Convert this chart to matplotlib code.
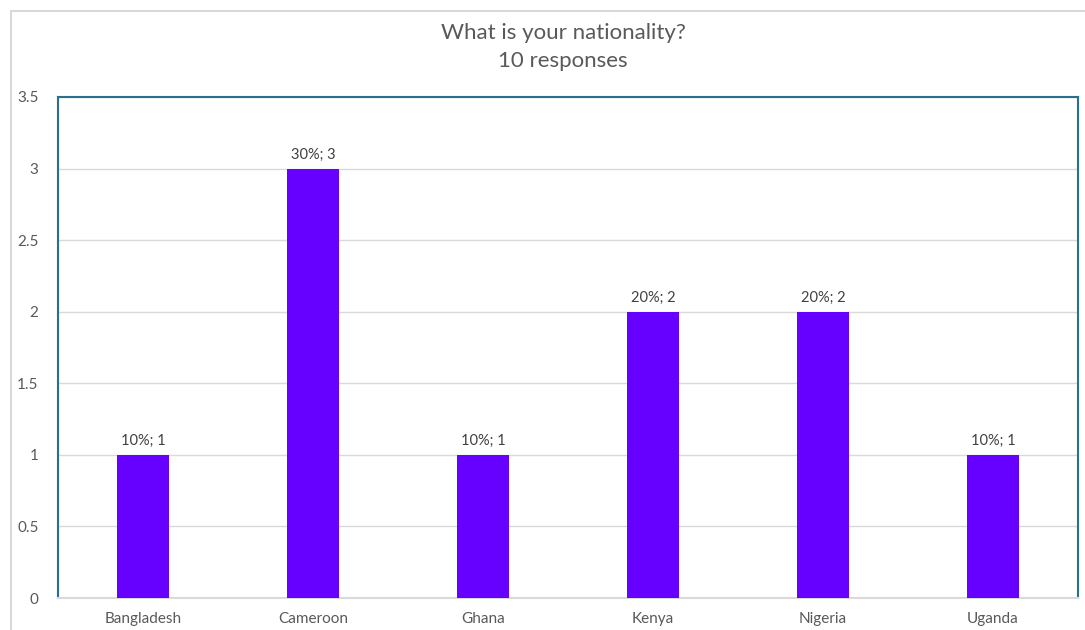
import matplotlib.pyplot as plt
import matplotlib.patches as patches
import numpy as np

#--- Data ---
countries = ['Bangladesh', 'Cameroon', 'Ghana', 'Kenya', 'Nigeria', 'Uganda']
counts = [1, 3, 1, 2, 2, 1]
percents = ['10%', '30%', '10%', '20%', '20%', '10%']
yticks = [0, 0.5, 1, 1.5, 2, 2.5, 3, 3.5]

plt.rcParams['font.family'] = ['Lato', 'DejaVu Sans']

fig = plt.figure(figsize=(10.85, 6.3), dpi=100)
W, H = 1085, 630

# outer card border
fig.patches.append(patches.Rectangle((11 / W, -0.01), 1.02, 1 - 11 / H + 0.01,
                                     transform=fig.transFigure, fill=False,
                                     edgecolor='#d9d9d9', linewidth=1.5))

ax = fig.add_axes([58 / W, 1 - 598 / H, (1078 - 58) / W, (598 - 97) / H])

x = np.arange(len(countries))
ax.bar(x, counts, width=0.31, color='#6600ff', zorder=3)

for xi, c, p in zip(x, counts, percents):
    ax.annotate(f'{p}; {c}', (xi, c), xytext=(0, 5), textcoords='offset points',
                ha='center', va='bottom', fontsize=10.5, color='#404040')

ax.set_xlim(-0.5, len(countries) - 0.5)
ax.set_ylim(0, 3.5)
ax.set_yticks(yticks)
ax.set_yticklabels(['0', '0.5', '1', '1.5', '2', '2.5', '3', '3.5'])
ax.set_xticks(x)
ax.set_xticklabels(countries)
ax.tick_params(axis='y', length=0, pad=14, labelsize=11, labelcolor='#595959')
ax.tick_params(axis='x', length=0, pad=10, labelsize=11, labelcolor='#595959')
ax.yaxis.grid(True, color='#d9d9d9', linewidth=1, zorder=0)

for s in ['left', 'top', 'right']:
    ax.spines[s].set_color('#2a6f8f')
    ax.spines[s].set_linewidth(1.5)
ax.spines['bottom'].set_color('#d9d9d9')
ax.spines['bottom'].set_linewidth(1.5)

fig.text(563 / W, 1 - 33 / H, 'What is your nationality?', ha='center', va='center',
         fontsize=16, color='#595959')
fig.text(563 / W, 1 - 61 / H, '10 responses', ha='center', va='center',
         fontsize=16, color='#595959')

fig.savefig('out.png', dpi=100)
